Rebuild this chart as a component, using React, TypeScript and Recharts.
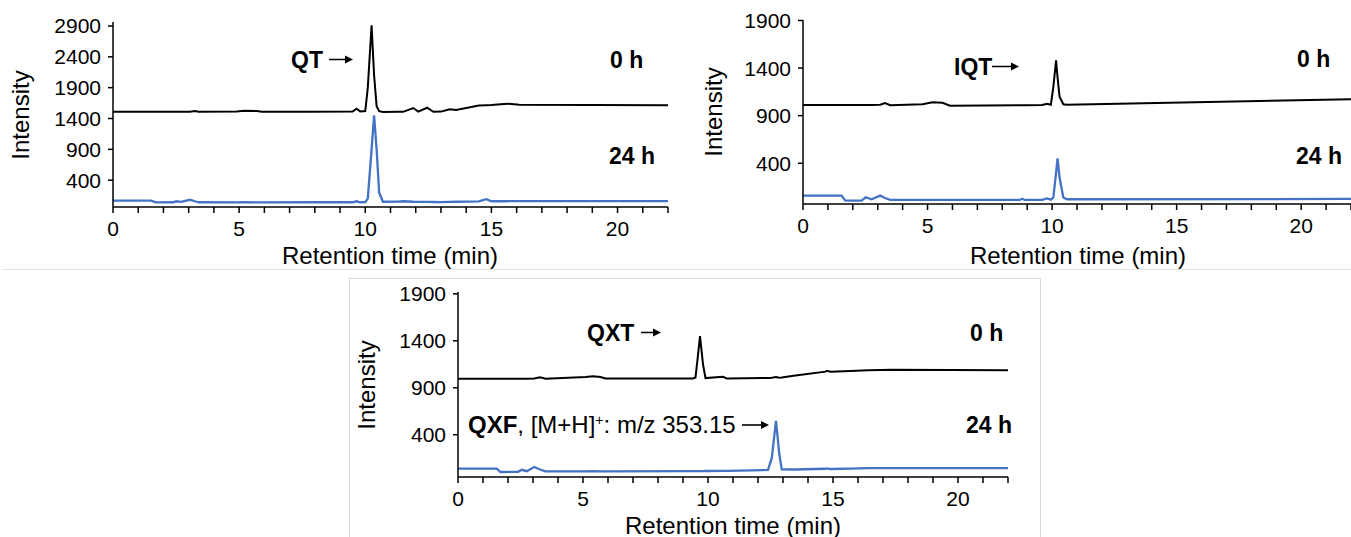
import { LineChart, Line, XAxis, YAxis } from 'recharts';

// Panel A: QT
const qtTime = [0, 1.5, 1.7, 2.4, 2.5, 2.7, 3.05, 3.25, 3.4, 4.9, 5.2, 5.7, 5.9, 7.8, 9.5, 9.65, 9.8, 10.0, 10.1, 10.25, 10.35, 10.45, 10.55, 10.7, 11.3, 11.5, 11.9, 12.1, 12.45, 12.7, 13.0, 13.35, 13.6, 14.5, 14.8, 15.0, 15.5, 15.7, 16.1, 22];
const qt0h = [1510, 1510, 1510, 1510, 1510, 1510, 1510, 1522, 1510, 1512, 1525, 1522, 1508, 1510, 1512, 1560, 1515, 1520, 1900, 2910, 2100, 1600, 1520, 1505, 1508, 1508, 1570, 1512, 1575, 1510, 1512, 1550, 1540, 1612, 1615, 1618, 1635, 1640, 1625, 1615];
const qt24h = [68, 68, 40, 42, 58, 48, 82, 58, 42, 40, 45, 40, 40, 42, 42, 58, 42, 45, 100, 900, 1450, 900, 200, 50, 52, 58, 50, 48, 48, 46, 45, 48, 50, 55, 92, 58, 58, 60, 60, 60];

// Panel B: IQT
const iqtTime = [0, 1.55, 1.7, 2.35, 2.52, 2.75, 3.1, 3.29, 3.5, 4.8, 5.2, 5.6, 5.9, 8.7, 8.8, 8.9, 9.6, 9.8, 9.95, 10.05, 10.16, 10.22, 10.3, 10.45, 10.6, 22];
const iqt0h = [1012, 1012, 1012, 1012, 1012, 1012, 1015, 1032, 1010, 1020, 1040, 1035, 1005, 1010, 1010, 1010, 1012, 1025, 1015, 1200, 1480, 1300, 1100, 1020, 1015, 1072];
const iqt24h = [60, 60, 8, 8, 43, 22, 60, 35, 16, 15, 15, 15, 15, 15, 28, 15, 15, 30, 18, 40, 300, 452, 250, 40, 22, 25];

// Panel C: QXT
const qxtTime = [0, 1.55, 1.7, 2.4, 2.55, 2.75, 3.05, 3.28, 3.5, 5.1, 5.4, 5.7, 5.9, 9.4, 9.5, 9.58, 9.68, 9.8, 9.9, 10.6, 10.75, 12.4, 12.55, 12.72, 12.85, 12.95, 13.5, 14.7, 14.75, 14.9, 15.7, 16.4, 17.35, 22];
const qxt0h = [995, 995, 995, 995, 996, 997, 1000, 1012, 997, 1015, 1022, 1015, 1000, 1000, 1010, 1200, 1450, 1150, 1003, 1017, 1000, 1005, 1008, 1015, 1008, 1010, 1030, 1072, 1080, 1070, 1080, 1088, 1093, 1087];
const qxt24h = [39, 39, 3, 5, 27, 12, 56, 30, 10, 10, 12, 10, 10, 12, 12, 12, 12, 12, 14, 15, 15, 25, 150, 547, 200, 31, 30, 38, 42, 35, 40, 45, 45, 45];

const xTicks = [0, 1, 2, 3, 4, 5, 6, 7, 8, 9, 10, 11, 12, 13, 14, 15, 16, 17, 18, 19, 20, 21, 22];
const yTicksA = [400, 900, 1400, 1900, 2400, 2900];
const yTicksB = [400, 900, 1400, 1900];

const FONT = '"Liberation Sans", Arial, sans-serif';
const BLUE = '#4472C4';

const rows = (t: number[], a: number[], b: number[]) =>
  t.map((v, i) => ({ t: v, h0: a[i], h24: b[i] }));

type PanelProps = {
  left: number;
  top: number;
  width: number;
  height: number;
  margin: { top: number; right: number; left: number; bottom: number };
  xHeight: number;
  domain: [number, number];
  yTicks: number[];
  data: { t: number; h0: number; h24: number }[];
};

function Panel({ left, top, width, height, margin, xHeight, domain, yTicks, data }: PanelProps) {
  const tickStyle = { fill: '#000', fontSize: 21, fontFamily: FONT };
  return (
    <div style={{ position: 'absolute', left, top }}>
      <LineChart width={width} height={height} data={data} margin={margin}>
        <XAxis
          dataKey="t"
          type="number"
          domain={[0, 22]}
          ticks={xTicks}
          interval={0}
          tickFormatter={(v: number) => (v % 5 === 0 ? String(v) : '')}
          height={xHeight}
          tickSize={6}
          tickMargin={8}
          stroke="#000"
          strokeWidth={1.5}
          tick={tickStyle}
        />
        <YAxis
          type="number"
          domain={domain}
          ticks={yTicks}
          interval={0}
          width={113}
          tickSize={5}
          tickMargin={7}
          stroke="#000"
          strokeWidth={1.5}
          tick={tickStyle}
        />
        <Line dataKey="h0" type="linear" stroke="#000" strokeWidth={2} dot={false} isAnimationActive={false} />
        <Line dataKey="h24" type="linear" stroke={BLUE} strokeWidth={2.3} dot={false} isAnimationActive={false} />
      </LineChart>
    </div>
  );
}

function Arrow({ len = 24 }: { len?: number }) {
  return (
    <svg width={len} height={10} style={{ verticalAlign: 'middle', marginBottom: 3 }}>
      <line x1={0} y1={5} x2={len - 6} y2={5} stroke="#000" strokeWidth={1.6} />
      <path d={`M${len - 8},1 L${len},5 L${len - 8},9 Z`} fill="#000" />
    </svg>
  );
}

function Note({ x, y, children, size = 23 }: { x: number; y: number; children: React.ReactNode; size?: number }) {
  return (
    <div
      style={{
        position: 'absolute',
        left: x,
        top: y,
        transform: 'translateY(-50%)',
        fontFamily: FONT,
        fontSize: size,
        color: '#000',
        whiteSpace: 'nowrap',
        lineHeight: 1,
      }}
    >
      {children}
    </div>
  );
}

function YTitle({ x, y }: { x: number; y: number }) {
  return (
    <div
      style={{
        position: 'absolute',
        left: x,
        top: y,
        transform: 'translate(-50%, -50%) rotate(-90deg)',
        fontFamily: FONT,
        fontSize: 24,
        whiteSpace: 'nowrap',
        lineHeight: 1,
      }}
    >
      Intensity
    </div>
  );
}

function XTitle({ x, y }: { x: number; y: number }) {
  return (
    <div
      style={{
        position: 'absolute',
        left: x,
        top: y,
        transform: 'translate(-50%, -50%)',
        fontFamily: FONT,
        fontSize: 24,
        whiteSpace: 'nowrap',
        lineHeight: 1,
      }}
    >
      Retention time (min)
    </div>
  );
}

export default function App() {
  return (
    <div style={{ position: 'absolute', left: 0, top: 0, width: 1351, height: 537, overflow: 'hidden', background: '#fff' }}>
      <div style={{ position: 'absolute', left: 2, top: 269, width: 1349, height: 1, background: '#e3e3e3' }} />
      <div style={{ position: 'absolute', left: 349, top: 278, width: 690, height: 280, border: '1px solid #d9d9d9' }} />

      <Panel
        left={0}
        top={0}
        width={680}
        height={272}
        margin={{ top: 22, right: 12, left: 0, bottom: 0 }}
        xHeight={65}
        domain={[-35, 2965]}
        yTicks={yTicksA}
        data={rows(qtTime, qt0h, qt24h)}
      />
      <Panel
        left={690}
        top={0}
        width={661}
        height={272}
        margin={{ top: 20, right: 0, left: 0, bottom: 0 }}
        xHeight={68}
        domain={[-28, 1905]}
        yTicks={yTicksB}
        data={rows(iqtTime, iqt0h, iqt24h)}
      />
      <Panel
        left={345}
        top={270}
        width={680}
        height={267}
        margin={{ top: 22, right: 17, left: 0, bottom: 0 }}
        xHeight={60}
        domain={[-50, 1920]}
        yTicks={yTicksB}
        data={rows(qxtTime, qxt0h, qxt24h)}
      />

      <YTitle x={21} y={115} />
      <YTitle x={714} y={112} />
      <YTitle x={367} y={385} />
      <XTitle x={390} y={256} />
      <XTitle x={1078} y={256} />
      <XTitle x={733} y={526} />

      <Note x={291} y={60}><b>QT</b> <Arrow /></Note>
      <Note x={610} y={60}><b>0 h</b></Note>
      <Note x={609} y={156}><b>24 h</b></Note>

      <Note x={954} y={67}><b>IQT</b><Arrow len={27} /></Note>
      <Note x={1297} y={59}><b>0 h</b></Note>
      <Note x={1296} y={156}><b>24 h</b></Note>

      <Note x={587} y={333}><b>QXT</b> <Arrow len={20} /></Note>
      <Note x={970} y={333}><b>0 h</b></Note>
      <Note x={468} y={425} size={24}>
        <b>QXF</b>, [M+H]<sup style={{ fontSize: 14, verticalAlign: 'top', lineHeight: 1 }}>+</sup>: m/z 353.15 <Arrow len={27} />
      </Note>
      <Note x={966} y={425}><b>24 h</b></Note>
    </div>
  );
}
